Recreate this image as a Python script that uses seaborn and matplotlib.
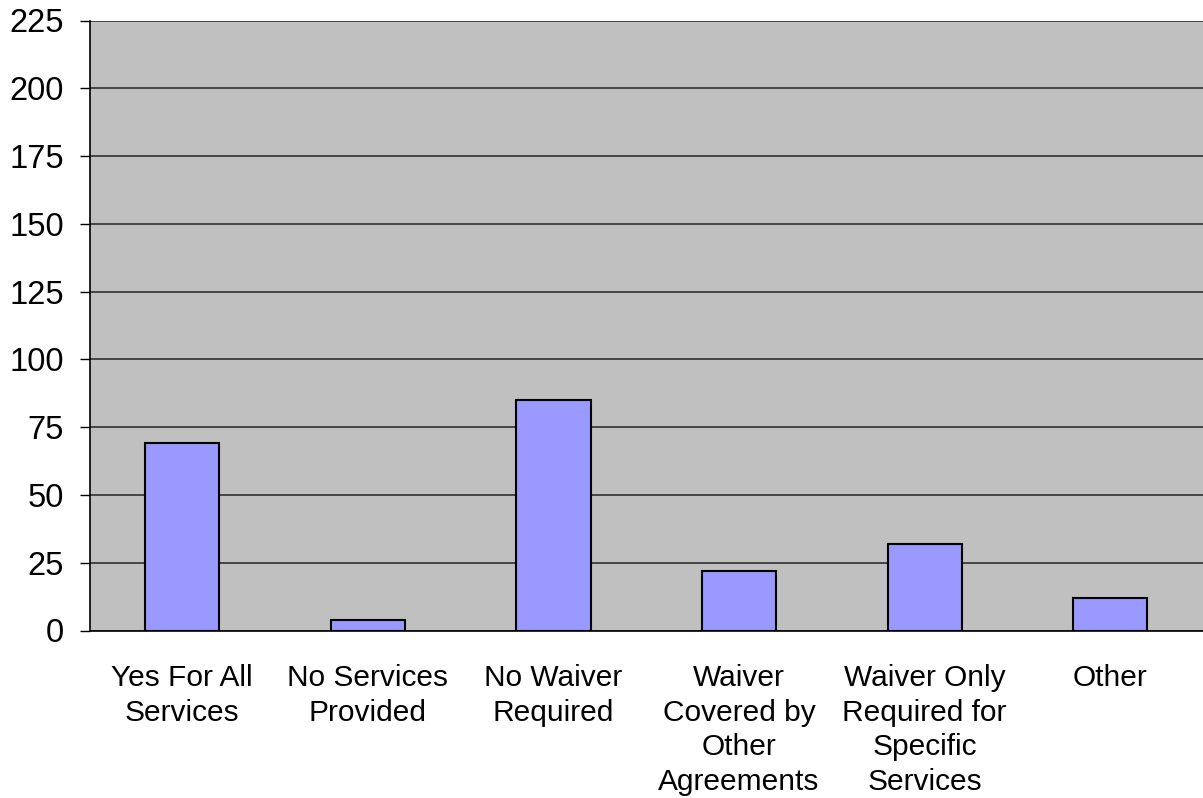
import matplotlib
matplotlib.use("Agg")
import matplotlib.pyplot as plt
import seaborn as sns
import pandas as pd
import numpy as np

# Survey responses: waiver status by category
categories = [
    "Yes For All\nServices",
    "No Services\nProvided",
    "No Waiver\nRequired",
    "Waiver\nCovered by\nOther\nAgreements",
    "Waiver Only\nRequired for\nSpecific\nServices",
    "Other",
]
counts = [69, 4, 85, 22, 32, 12]
y_ticks = [0, 25, 50, 75, 100, 125, 150, 175, 200, 225]

df = pd.DataFrame({"category": categories, "count": counts})

sns.set_theme(style="white")
plt.rcParams["font.family"] = ["Liberation Sans", "DejaVu Sans"]
plt.rcParams["text.color"] = "black"
plt.rcParams["xtick.color"] = "black"
plt.rcParams["ytick.color"] = "black"

fig = plt.figure(figsize=(12.03, 7.98), dpi=100)
ax = fig.add_axes([89.5 / 1203, (798 - 630.5) / 798, (1203 - 89.5) / 1203, 610 / 798])
ax.set_facecolor("#C0C0C0")

sns.barplot(data=df, x="category", y="count", color="#9999FF", width=0.4,
            edgecolor="black", linewidth=1.5, saturation=1, ax=ax, zorder=3)

ax.set_ylim(0, 225)
ax.set_xlim(-0.5, len(categories) - 0.5)
ax.set_yticks(y_ticks)
ax.yaxis.grid(True, color="#303030", linewidth=1.2, zorder=1)
ax.set_axisbelow(True)

ax.set_xlabel("")
ax.set_ylabel("")

# Category separators as outward ticks along the x axis
ax.set_xticks(np.arange(len(categories)))
ax.set_xticks(np.arange(len(categories) + 1) - 0.5, minor=True)
ax.tick_params(axis="x", which="major", length=0, pad=24, labelsize=21.5,
               labelcolor="black")
ax.tick_params(axis="x", which="minor", length=7.2, width=1, color="black", direction="out")
ax.tick_params(axis="y", which="major", length=7.2, width=1, color="black",
               direction="out", left=True, pad=11, labelsize=23.5, labelcolor="black")
for lbl in ax.get_xticklabels():
    lbl.set_linespacing(1.31)
    lbl.set_verticalalignment("top")

for side in ("top", "right"):
    ax.spines[side].set_visible(False)
for side in ("left", "bottom"):
    ax.spines[side].set_visible(True)
    ax.spines[side].set_color("black")
    ax.spines[side].set_linewidth(1.2)

fig.savefig("out.png", dpi=100, facecolor="white")
